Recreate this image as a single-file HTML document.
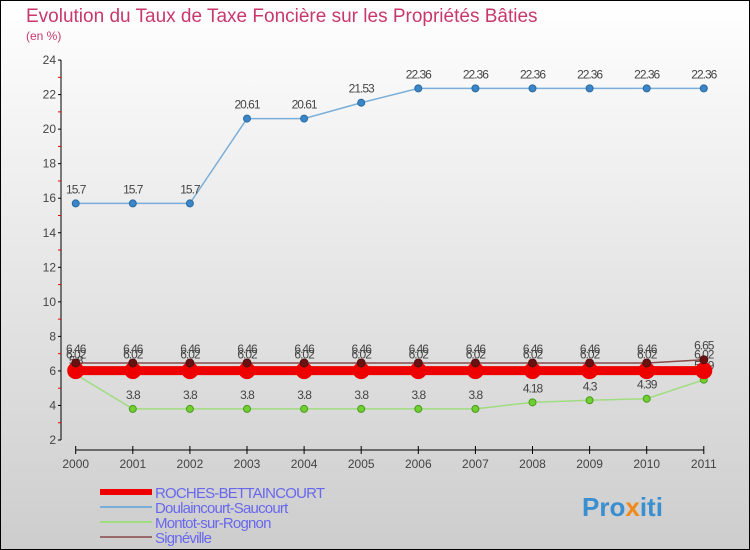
<!DOCTYPE html>
<html><head><meta charset="utf-8"><style>
body{margin:0;}
svg{display:block;font-family:"Liberation Sans",sans-serif;}
</style></head><body>
<svg id="chart" width="750" height="550" viewBox="0 0 750 550">
<defs><linearGradient id="bg" x1="0" y1="0" x2="0" y2="1"><stop offset="0" stop-color="#ffffff"/><stop offset="1" stop-color="#cdcdcd"/></linearGradient></defs>
<rect x="0.5" y="0.5" width="749" height="549" fill="url(#bg)" stroke="#000"/>
<text x="26" y="22" font-size="19" fill="#c8386c">Evolution du Taux de Taxe Foncière sur les Propriétés Bâties</text>
<text x="26" y="40" font-size="12" fill="#c8386c">(en %)</text>
<g id="axes"></g>
<g id="series"></g>
<g id="legend"></g>
<text x="582" y="516" font-size="26" font-weight="bold" fill="#3a8fd0">Pro<tspan fill="#f08a1a">x</tspan>iti</text>
</svg>
<script>
const years=[2000,2001,2002,2003,2004,2005,2006,2007,2008,2009,2010,2011];
const yTicks=[2,4,6,8,10,12,14,16,18,20,22,24];
const seriesNames=["ROCHES-BETTAINCOURT","Doulaincourt-Saucourt","Montot-sur-Rognon","Signéville"];
const roches=[6.02,6.02,6.02,6.02,6.02,6.02,6.02,6.02,6.02,6.02,6.02,6.02];
const doulaincourt=[15.7,15.7,15.7,20.61,20.61,21.53,22.36,22.36,22.36,22.36,22.36,22.36];
const montot=[5.8,3.8,3.8,3.8,3.8,3.8,3.8,3.8,4.18,4.3,4.39,5.49];
const signeville=[6.46,6.46,6.46,6.46,6.46,6.46,6.46,6.46,6.46,6.46,6.46,6.65];
const NS="http://www.w3.org/2000/svg";
const xS=i=>75.7+i*57.1;
const yS=v=>440-(v-2)*17.27;
function mk(tag,attrs,parent){const e=document.createElementNS(NS,tag);for(const k in attrs)e.setAttribute(k,attrs[k]);parent.appendChild(e);return e;}
const axes=document.getElementById('axes');
let yl=mk('line',{x1:61,y1:yS(24),x2:61,y2:440,stroke:'#000'},axes);


let xl=mk('line',{x1:xS(0),y1:450,x2:xS(11),y2:450,stroke:'#000'},axes);


yTicks.forEach(v=>{
  mk('line',{x1:58,y1:yS(v),x2:61,y2:yS(v),stroke:'#000'},axes);
  mk('line',{x1:58,y1:yS(v+1),x2:61,y2:yS(v+1),stroke:v<24?'#e00':'none'},axes);
  const t=mk('text',{x:56,y:yS(v)+4,'font-size':12,'text-anchor':'end',fill:'#444'},axes);
  t.textContent=v;
  
  
});
years.forEach((y,i)=>{
  mk('line',{x1:xS(i),y1:446,x2:xS(i),y2:454,stroke:'#000'},axes);
  const t=mk('text',{x:xS(i),y:468,'font-size':12,'text-anchor':'middle',fill:'#444'},axes);
  t.textContent=y;
  
  
});
const sg=document.getElementById('series');
function drawSeries(vals,color,width,r,dot,dotStroke,name,labelDy){
  const g=mk('g',{},sg);
  
  
  mk('polyline',{points:vals.map((v,i)=>xS(i)+','+yS(v)).join(' '),fill:'none',stroke:color,'stroke-width':width},g);
  vals.forEach((v,i)=>{
    const c=mk('circle',{cx:xS(i),cy:yS(v),r:r,fill:dot,stroke:dotStroke},g);
    
    
    const t=mk('text',{x:xS(i),y:yS(v)+labelDy,'font-size':12,'text-anchor':'middle',fill:'#444','letter-spacing':'-1'},g);
    t.textContent=String(v);
    
    
  });
}
drawSeries(doulaincourt,'#7aaed8',1.5,3.5,'#3a86c8','#2a6aa0','doulaincourt-series',-10);
drawSeries(montot,'#a0dc80',1.5,3.5,'#70d030','#4a9a20','montot-series',-10);
drawSeries(roches,'#ee0000',9,8,'#ee0000','#ee0000','roches-series',-12);
drawSeries(signeville,'#8a4a4a',1.5,4,'#6a1010','#501010','signeville-series',-10);
const lg=document.getElementById('legend');
const lcol=['#ee0000','#7aaed8','#a0dc80','#9a6a6a'];const lw=[6,2,2,2];
seriesNames.forEach((n,i)=>{
  const y=492+i*15;
  const l=mk('line',{x1:100,y1:y,x2:152,y2:y,stroke:lcol[i],'stroke-width':lw[i]},lg);
  
  
  const t=mk('text',{x:155,y:y+6,'font-size':15,fill:'#6868ee','letter-spacing':'-0.8'},lg);
  t.textContent=n;
  
  
});
</script>
</body></html>
